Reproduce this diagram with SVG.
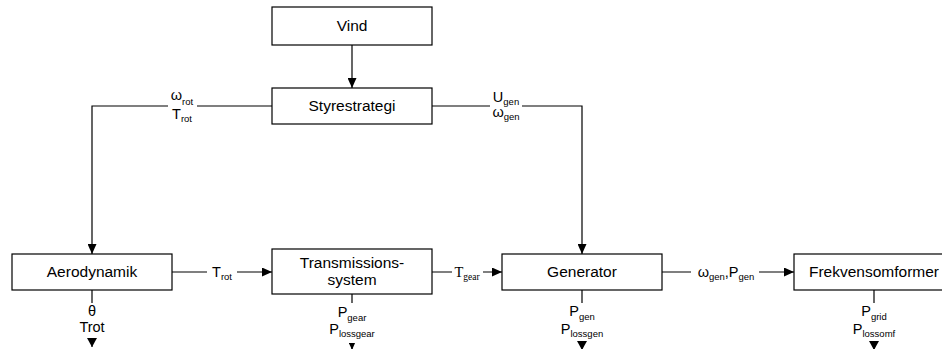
<svg xmlns="http://www.w3.org/2000/svg" width="942" height="349" viewBox="0 0 942 349">
<defs>
<style>
.box{fill:#fff;stroke:#000;stroke-width:1.2}
.t{font-family:"Liberation Sans",Arial,sans-serif;font-size:15.5px;fill:#000;text-anchor:middle}
.l{font-family:"Liberation Sans",Arial,sans-serif;font-size:14.5px;fill:#000;text-anchor:middle}
.ls{font-family:"Liberation Serif","Times New Roman",serif;font-size:14.5px;fill:#000;text-anchor:middle}
.s{font-size:9.5px}
.line{fill:none;stroke:#000;stroke-width:1.2}
.bg{fill:#fff}
</style>
<marker id="ah" markerUnits="userSpaceOnUse" markerWidth="10" markerHeight="9" refX="10" refY="4.5" orient="auto">
<path d="M0,0 L10,4.5 L0,9 z" fill="#000"/>
</marker>
<marker id="ahv" markerUnits="userSpaceOnUse" markerWidth="9" markerHeight="10" refX="9" refY="5" orient="auto">
<path d="M0,0 L9,5 L0,10 z" fill="#000"/>
</marker>
<marker id="ahs" markerUnits="userSpaceOnUse" markerWidth="8" markerHeight="7" refX="8" refY="3.5" orient="auto">
<path d="M0,0 L8,3.5 L0,7 z" fill="#000"/>
</marker>
</defs>
<rect width="942" height="349" fill="#fff"/>

<g id="connectors">
<path class="line" d="M352,45 V88" marker-end="url(#ah)"/>
<path class="line" d="M272,106 H92 V254" marker-end="url(#ah)"/>
<path class="line" d="M432,106 H582 V254" marker-end="url(#ah)"/>
<path class="line" d="M172,272 H272" marker-end="url(#ah)"/>
<path class="line" d="M432,272 H502" marker-end="url(#ah)"/>
<path class="line" d="M662,272 H794" marker-end="url(#ah)"/>
<path class="line" d="M92,290 V347" marker-end="url(#ahv)"/>
<path class="line" d="M352,294 V350" marker-end="url(#ahs)"/>
<path class="line" d="M582,290 V350" marker-end="url(#ahv)"/>
<path class="line" d="M874,290 V350" marker-end="url(#ahv)"/>

<g id="lbl-rot-top">
<rect class="bg" x="168" y="90" width="29" height="34"/>
<text class="l" x="182" y="100">ω<tspan class="s" dy="5">rot</tspan></text>
<text class="l" x="182" y="119">T<tspan class="s" dy="3">rot</tspan></text>
</g>
<g id="lbl-gen-top">
<rect class="bg" x="490" y="90" width="32" height="34"/>
<text class="l" x="506" y="102">U<tspan class="s" dy="3">gen</tspan></text>
<text class="l" x="506" y="117">ω<tspan class="s" dy="3">gen</tspan></text>
</g>
<g id="lbl-trot">
<rect class="bg" x="207" y="264" width="30" height="17"/>
<text class="l" x="222" y="277">T<tspan class="s" dy="3">rot</tspan></text>
</g>
<g id="lbl-tgear">
<rect class="bg" x="452" y="264" width="31" height="17"/>
<text class="ls" x="467" y="277">T<tspan class="s" dy="3">gear</tspan></text>
</g>
<g id="lbl-wgen">
<rect class="bg" x="691" y="264" width="68" height="17"/>
<text class="l" x="726" y="277">ω<tspan class="s" dy="3">gen</tspan><tspan dy="-3">,P</tspan><tspan class="s" dy="3">gen</tspan></text>
</g>
<g id="lbl-aero-out">
<rect class="bg" x="78" y="303" width="28" height="35"/>
<text class="l" x="92" y="316">θ</text>
<text class="l" x="92" y="332">Trot</text>
</g>
<g id="lbl-trans-out">
<rect class="bg" x="325" y="303" width="55" height="40"/>
<text class="l" x="352" y="317">P<tspan class="s" dy="4">gear</tspan></text>
<text class="l" x="352" y="334">P<tspan class="s" dy="3">lossgear</tspan></text>
</g>
<g id="lbl-gen-out">
<rect class="bg" x="555" y="303" width="53" height="38"/>
<text class="l" x="582" y="316">P<tspan class="s" dy="4">gen</tspan></text>
<text class="l" x="582" y="334">P<tspan class="s" dy="3">lossgen</tspan></text>
</g>
<g id="lbl-frek-out">
<rect class="bg" x="848" y="303" width="53" height="38"/>
<text class="l" x="874" y="316">P<tspan class="s" dy="4">grid</tspan></text>
<text class="l" x="874" y="334">P<tspan class="s" dy="3">lossomf</tspan></text>
</g>
</g>

<g id="vind">
<rect class="box" x="272" y="7" width="160" height="38"/>
<text class="t" x="352" y="31">Vind</text>
</g>
<g id="styrestrategi">
<rect class="box" x="272" y="88" width="160" height="36"/>
<text class="t" x="352" y="111">Styrestrategi</text>
</g>
<g id="aerodynamik">
<rect class="box" x="12" y="254" width="160" height="36"/>
<text class="t" x="92" y="277">Aerodynamik</text>
</g>
<g id="transmissionssystem">
<rect class="box" x="272" y="249" width="160" height="45"/>
<text class="t" x="352" y="268">Transmissions-</text>
<text class="t" x="352" y="285">system</text>
</g>
<g id="generator">
<rect class="box" x="502" y="254" width="160" height="36"/>
<text class="t" x="582" y="277">Generator</text>
</g>
<g id="frekvensomformer">
<rect class="box" x="794" y="254" width="160" height="36"/>
<text class="t" x="874" y="277">Frekvensomformer</text>
</g>
</svg>
